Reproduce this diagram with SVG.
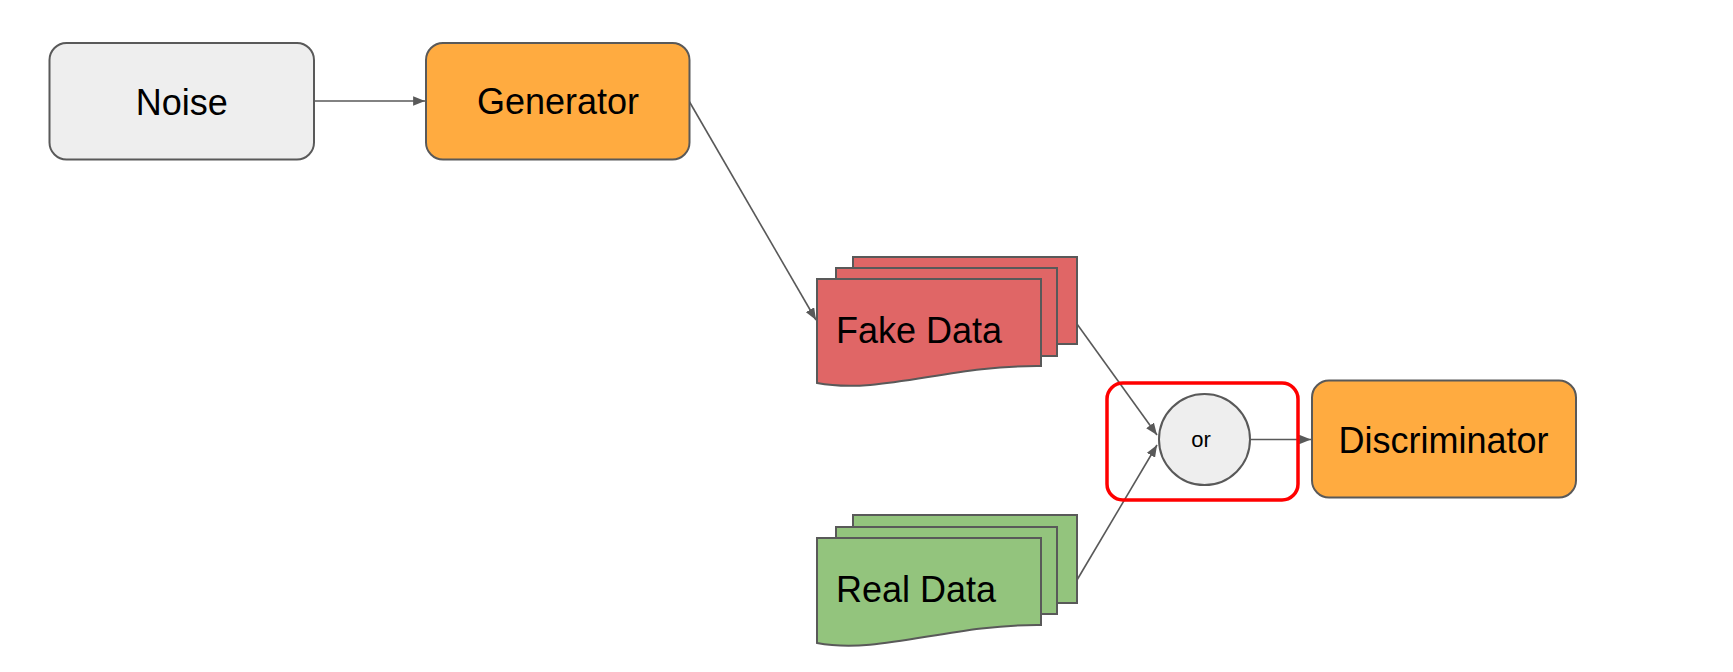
<svg xmlns="http://www.w3.org/2000/svg" width="1733" height="672" viewBox="0 0 1733 672">
<style>
  .lbl{font-family:"Liberation Sans",Arial,sans-serif;font-size:36px;fill:#000}
  .box{stroke:#595959;stroke-width:2}
  .conn{stroke:#595959;stroke-width:1.6;fill:none;marker-end:url(#arr)}
  .doc{stroke:#595959;stroke-width:2}
</style>
<defs>
  <marker id="arr" viewBox="0 0 10 8" refX="10" refY="4" markerWidth="12" markerHeight="9.5" markerUnits="userSpaceOnUse" orient="auto">
    <path d="M0,0 L10,4 L0,8 z" fill="#595959"/>
  </marker>
</defs>
<rect width="1733" height="672" fill="#ffffff"/>
<g id="connectors">
  <line class="conn" x1="314" y1="101" x2="425" y2="101"/>
  <line class="conn" x1="689" y1="101" x2="816" y2="320"/>
  <line class="conn" x1="1077" y1="324" x2="1157" y2="435"/>
  <line class="conn" x1="1077" y1="580" x2="1157" y2="445"/>
  <line class="conn" x1="1250" y1="439.5" x2="1311" y2="439.5"/>
</g>
<g id="noise">
  <rect class="box" x="49.5" y="43" width="264.5" height="116.5" rx="17" fill="#eeeeee"/>
  <text class="lbl" x="181.7" y="115" text-anchor="middle">Noise</text>
</g>
<g id="generator">
  <rect class="box" x="426" y="43" width="263.5" height="116.5" rx="17" fill="#ffab40"/>
  <text class="lbl" x="558" y="114" text-anchor="middle">Generator</text>
</g>
<g id="fake-data">
  <path class="doc" fill="#e06666" d="M853,257 H1077 V344 H1057 V268 H853 Z"/>
  <path class="doc" fill="#e06666" d="M836,268 H1057 V356 H1041 V279 H836 Z"/>
  <path class="doc" fill="#e06666" d="M817,279 H1041 V366 C950,365 880,395 817,383 Z"/>
  <text class="lbl" x="836" y="343">Fake Data</text>
</g>
<g id="real-data">
  <path class="doc" fill="#93c47d" d="M853,515 H1077 V603 H1057 V527 H853 Z"/>
  <path class="doc" fill="#93c47d" d="M836,527 H1057 V614 H1041 V538 H836 Z"/>
  <path class="doc" fill="#93c47d" d="M817,538 H1041 V625 C950,624 880,655 817,643 Z"/>
  <text class="lbl" x="836" y="602">Real Data</text>
</g>
<g id="or-group">
  <rect x="1107" y="383" width="191" height="117" rx="16" fill="none" stroke="#ff0000" stroke-width="3.5"/>
</g>
<g id="or">
  <circle cx="1204.5" cy="439.5" r="45.5" fill="#eeeeee" stroke="#595959" stroke-width="2"/>
  <text x="1201" y="447" text-anchor="middle" style="font-family:'Liberation Sans',Arial,sans-serif;font-size:22px;fill:#000">or</text>
</g>
<g id="discriminator">
  <rect class="box" x="1312" y="380.5" width="264" height="117" rx="17" fill="#ffab40"/>
  <text class="lbl" x="1443.5" y="452.5" text-anchor="middle">Discriminator</text>
</g>
</svg>
